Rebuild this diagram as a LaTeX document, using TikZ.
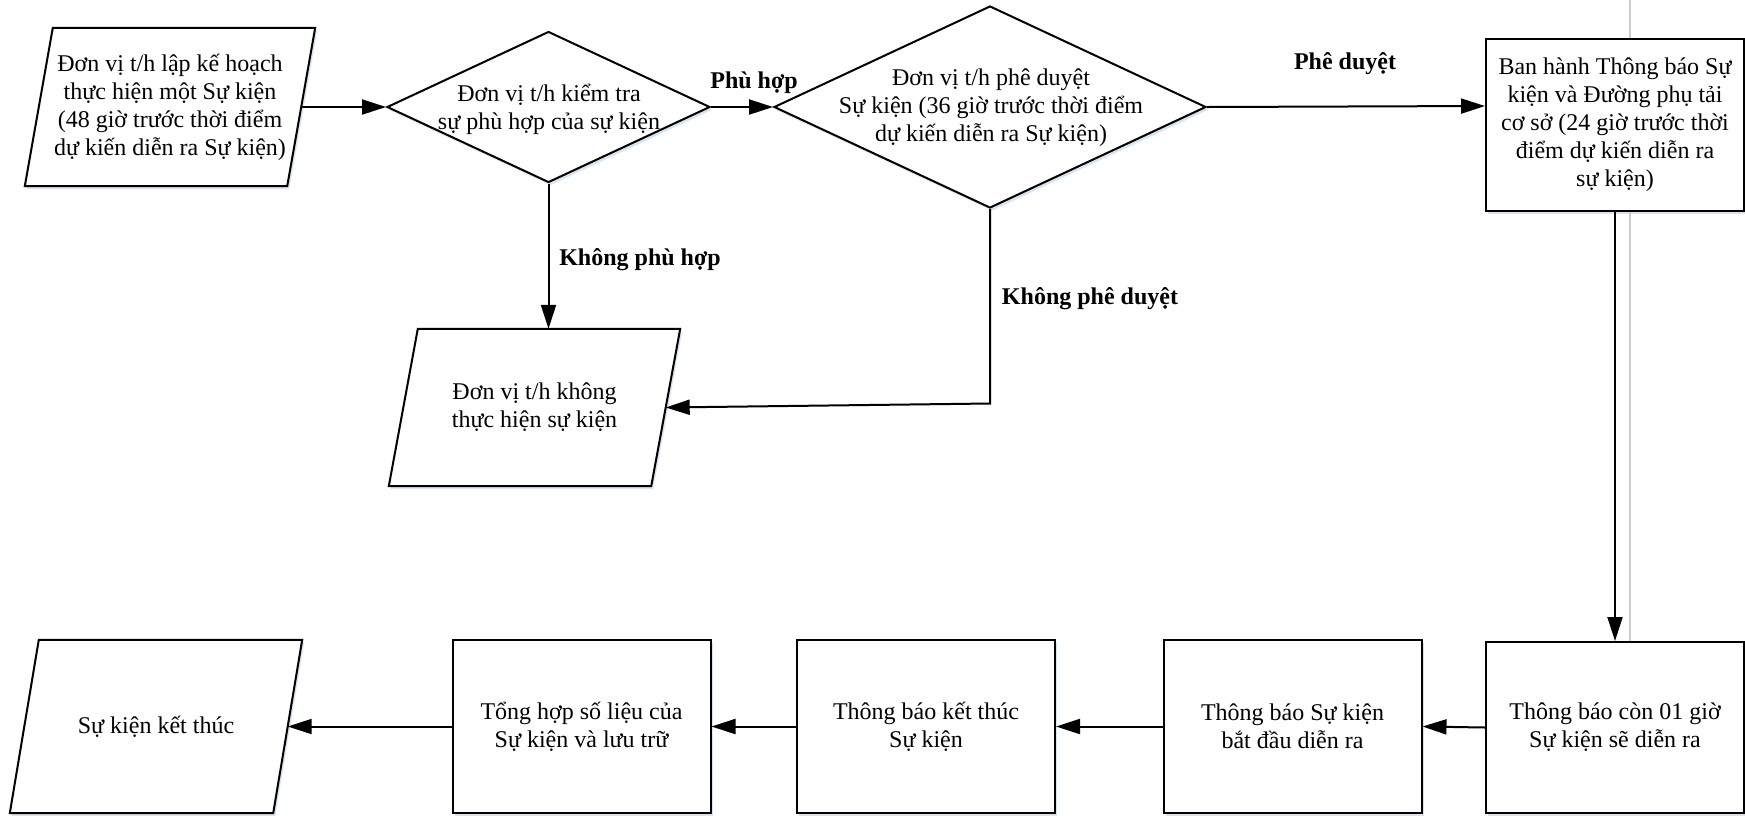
\documentclass[tikz,border=0pt]{standalone}
\usepackage{fontspec}
\setmainfont{Liberation Serif}
\usetikzlibrary{shapes.geometric,arrows.meta,shadows,calc}
\definecolor{shadowblue}{RGB}{185,205,232}
\definecolor{guidegray}{RGB}{205,205,205}
\pgfdeclarelayer{bg}
\pgfsetlayers{bg,main}
\newcommand{\drawparal}[2]{%
  \draw[shp] ([xshift=#2]#1.north west) -- ([xshift=#2]#1.north east)
    -- ([xshift=-#2]#1.south east) -- ([xshift=-#2]#1.south west) -- cycle;}
\begin{document}
\begin{tikzpicture}[x=1pt,y=-1pt,
  every node/.append style={font=\fontsize{24}{28}\selectfont, align=center},
  shp/.style={draw=black, line width=2pt, fill=white, inner sep=0pt,
    drop shadow={shadow xshift=2pt, shadow yshift=-3pt, fill=shadowblue, opacity=0.55}},
  procbox/.style={shp, rectangle, minimum width=258pt, minimum height=172pt},
  ionode/.style={rectangle, inner sep=0pt},
  decision/.style={shp, diamond},
  conn/.style={line width=2pt, -{Triangle[length=24pt,width=15pt]}},
  lbl/.style={font=\bfseries\fontsize{24}{28}\selectfont},
  guide/.style={draw=guidegray, line width=1.6pt}]
\useasboundingbox (0,0) rectangle (1745,815);

% faint vertical guide line behind the right column
\coordinate (g0) at (1630,0);
\coordinate (g1) at (1630,642);
\draw[guide] (g0) -- (g1);

% top row
\node[ionode, minimum width=262pt, minimum height=158pt] (p1) at (170,107)
  {Đơn vị t/h lập kế hoạch\\ thực hiện một Sự kiện\\(48 giờ trước thời điểm\\dự kiến diễn ra Sự kiện)};
\node[decision, minimum width=323pt, minimum height=151pt] (d1) at (548.5,107) {};
\node (d1t) at (549,109) {Đơn vị t/h kiểm tra\\sự phù hợp của sự kiện};
\node[decision, minimum width=432pt, minimum height=202pt] (d2) at (990,107) {};
\node (d2t) at (991,108) {Đơn vị t/h phê duyệt\\Sự kiện (36 giờ trước thời điểm\\dự kiến diễn ra Sự kiện)};
\node[procbox] (b1) at (1615,125)
  {Ban hành Thông báo Sự\\kiện và Đường phụ tải\\cơ sở (24 giờ trước thời\\điểm dự kiến diễn ra\\sự kiện)};

% middle
\node[ionode, minimum width=262pt, minimum height=157pt] (p2) at (534.5,407.5)
  {Đơn vị t/h không\\thực hiện sự kiện};

% bottom row
\node[ionode, minimum width=263pt, minimum height=173pt] (p3) at (156,726.5) {Sự kiện kết thúc};
\node[procbox, minimum height=173pt] (b2) at (581.5,726.5) {Tổng hợp số liệu của\\Sự kiện và lưu trữ};
\node[procbox, minimum height=173pt] (b3) at (926,726.5) {Thông báo kết thúc\\Sự kiện};
\node[procbox, minimum height=173pt] (b4) at (1292.5,726.5) {Thông báo Sự kiện\\bắt đầu diễn ra};
\node[procbox, minimum height=171pt] (b5) at (1615,727.5) {Thông báo còn 01 giờ\\Sự kiện sẽ diễn ra};

% parallelogram outlines, behind their texts
\begin{pgfonlayer}{bg}
  \drawparal{p1}{14pt}
  \drawparal{p2}{14.5pt}
  \drawparal{p3}{14.5pt}
\end{pgfonlayer}

% labels
\node[lbl] (lph) at (754,83) {Phù hợp};
\node[lbl] (lpd) at (1345,64) {Phê duyệt};
\node[lbl] (lkph) at (640,260) {Không phù hợp};
\node[lbl] (lkpd) at (1090,299) {Không phê duyệt};

% connectors
\draw[conn] (p1.east) -- (d1.west);
\draw[conn] (d1.east) -- (d2.west);
\draw[conn] (d2.east) -- ([yshift=19pt]b1.west);
\draw[conn] (d1.south) -- (d1.south |- p2.north);
\draw[conn] (d2.south) -- ([yshift=4pt]d2.south |- p2.east) -- (p2.east);
\draw[conn] (b1.south) -- (b5.north);
\draw[conn] (b5.west) -- (b4.east);
\draw[conn] (b4.west) -- (b3.east);
\draw[conn] (b3.west) -- (b2.east);
\draw[conn] (b2.west) -- (p3.east);
\end{tikzpicture}
\end{document}
